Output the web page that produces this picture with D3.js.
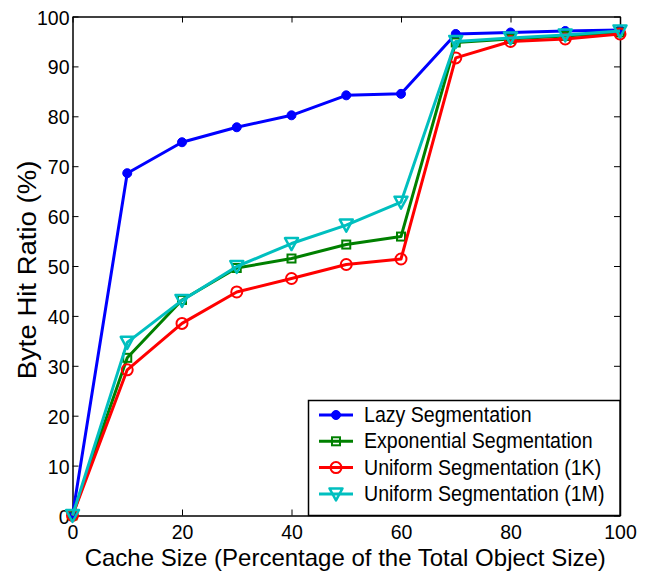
<!DOCTYPE html>
<html>
<head>
<meta charset="utf-8">
<script src="https://cdn.jsdelivr.net/npm/d3@7"></script>
<style>
  body { margin: 0; background: #fff; }
  svg text { font-family: "Liberation Sans", Arial, sans-serif; fill: #000; }
</style>
</head>
<body>
<div id="container"></div>
<script>
var cacheSizes = [0, 10, 20, 30, 40, 50, 60, 70, 80, 90, 100];
var lazySeg = [0, 68.6, 74.8, 77.8, 80.2, 84.2, 84.5, 96.5, 96.8, 97.1, 97.3];
var expSeg = [0, 31.6, 43.2, 49.6, 51.5, 54.3, 55.9, 94.8, 95.5, 96.1, 96.8];
var uni1K = [0, 29.2, 38.5, 44.8, 47.5, 50.3, 51.4, 91.7, 95.0, 95.5, 96.5];
var uni1M = [0, 34.7, 43.1, 49.9, 54.5, 58.2, 62.8, 95.0, 95.7, 96.3, 97.1];
var xTicks = [0, 20, 40, 60, 80, 100];
var yTicks = [0, 10, 20, 30, 40, 50, 60, 70, 80, 90, 100];

var series = [
  {name: "Lazy Segmentation", values: lazySeg, color: "#0000ff", marker: "dot"},
  {name: "Exponential Segmentation", values: expSeg, color: "#008000", marker: "square"},
  {name: "Uniform Segmentation (1K)", values: uni1K, color: "#ff0000", marker: "circle"},
  {name: "Uniform Segmentation (1M)", values: uni1M, color: "#00bfbf", marker: "triangle"}
];

var CHART = {
  WIDTH: 654,
  HEIGHT: 571,
  LEFT: 72.5,
  RIGHT: 620,
  TOP: 16.5,
  BOTTOM: 515.5,
  TICK: 6,
  STRETCH: 1.08   // the original figure is slightly taller than wide
};

var svg = d3.select("#container").append("svg")
    .attr("width", CHART.WIDTH)
    .attr("height", CHART.HEIGHT);

var x = d3.scaleLinear().domain([0, 100]).range([CHART.LEFT, CHART.RIGHT]);
var y = d3.scaleLinear().domain([0, 100]).range([CHART.BOTTOM, CHART.TOP]);

// axes with inward ticks, MATLAB style box
var axBottom = svg.append("g").attr("transform", "translate(0," + CHART.BOTTOM + ")")
    .call(d3.axisBottom(x).tickValues(xTicks).tickSizeInner(-CHART.TICK).tickSizeOuter(0));
var axTop = svg.append("g").attr("transform", "translate(0," + CHART.TOP + ")")
    .call(d3.axisTop(x).tickValues(xTicks).tickSizeInner(-CHART.TICK).tickSizeOuter(0).tickFormat(""));
var axLeft = svg.append("g").attr("transform", "translate(" + CHART.LEFT + ",0)")
    .call(d3.axisLeft(y).tickValues(yTicks).tickSizeInner(-CHART.TICK).tickSizeOuter(0));
var axRight = svg.append("g").attr("transform", "translate(" + CHART.RIGHT + ",0)")
    .call(d3.axisRight(y).tickValues(yTicks).tickSizeInner(-CHART.TICK).tickSizeOuter(0).tickFormat(""));

[axBottom, axTop, axLeft, axRight].forEach(function (a) {
  a.selectAll("path").style("stroke", "#000").style("stroke-width", 1.5);
  a.selectAll("line").style("stroke", "#000").style("stroke-width", 1);
  a.selectAll("text")
      .style("font-size", "19.5px")
      .style("font-family", "Liberation Sans, Arial, sans-serif");
});
axBottom.selectAll("text").attr("dy", null).attr("y", 23);
axLeft.selectAll("text").attr("x", -3).attr("dy", "0.36em")
    .attr("transform", "scale(1," + CHART.STRETCH + ")");

// axis labels
svg.append("text")
    .attr("x", (CHART.LEFT + CHART.RIGHT) / 2 - 1)
    .attr("y", 565.8)
    .attr("text-anchor", "middle")
    .style("font-size", "24px")
    .text("Cache Size (Percentage of the Total Object Size)");
svg.append("text")
    .attr("transform", "translate(36," + ((CHART.TOP + CHART.BOTTOM) / 2 + 4) + ") scale(1," + CHART.STRETCH + ") rotate(-90)")
    .attr("text-anchor", "middle")
    .style("font-size", "25.5px")
    .text("Byte Hit Ratio (%)");

function drawMarker(g, type, color, cx, cy) {
  if (type === "dot") {
    g.append("circle").attr("cx", cx).attr("cy", cy).attr("r", 4.5)
        .style("fill", color).style("stroke", color);
  } else if (type === "square") {
    g.append("rect").attr("x", cx - 4).attr("y", cy - 4).attr("width", 8).attr("height", 8)
        .style("fill", "none").style("stroke", color).style("stroke-width", 2);
  } else if (type === "circle") {
    g.append("circle").attr("cx", cx).attr("cy", cy).attr("r", 5.5)
        .style("fill", "none").style("stroke", color).style("stroke-width", 2);
  } else if (type === "triangle") {
    g.append("path")
        .attr("d", "M" + (cx - 6.5) + "," + (cy - 5.5) + "L" + (cx + 6.5) + "," + (cy - 5.5) + "L" + cx + "," + (cy + 6.5) + "Z")
        .style("fill", "none").style("stroke", color).style("stroke-width", 2.5)
        .style("stroke-linejoin", "round");
  }
}

var line = d3.line()
    .x(function (d, i) { return x(cacheSizes[i]); })
    .y(function (d) { return y(d); });

for (var s = 0; s < series.length; s++) {
  var ser = series[s];
  var g = svg.append("g");
  g.append("path")
      .attr("d", line(ser.values))
      .style("fill", "none")
      .style("stroke", ser.color)
      .style("stroke-width", 3)
      .style("stroke-linejoin", "round");
  for (var i = 0; i < ser.values.length; i++) {
    drawMarker(g, ser.marker, ser.color, x(cacheSizes[i]), y(ser.values[i]));
  }
}

// legend
var legend = svg.append("g");
legend.append("rect")
    .attr("x", 308.5).attr("y", 400.5)
    .attr("width", CHART.RIGHT - 308.5).attr("height", CHART.BOTTOM - 400.5)
    .style("fill", "#fff").style("stroke", "#000").style("stroke-width", 1.5);
for (var k = 0; k < series.length; k++) {
  var ly = 415 + k * 26.3;
  var lg = legend.append("g");
  lg.append("line")
      .attr("x1", 319).attr("x2", 353).attr("y1", ly).attr("y2", ly)
      .style("stroke", series[k].color).style("stroke-width", 3);
  drawMarker(lg, series[k].marker, series[k].color, 336, ly);
  lg.append("text")
      .attr("transform", "translate(364," + (ly + 7) + ") scale(1," + CHART.STRETCH + ")")
      .style("font-size", "19.6px")
      .text(series[k].name);
}
</script>
</body>
</html>
